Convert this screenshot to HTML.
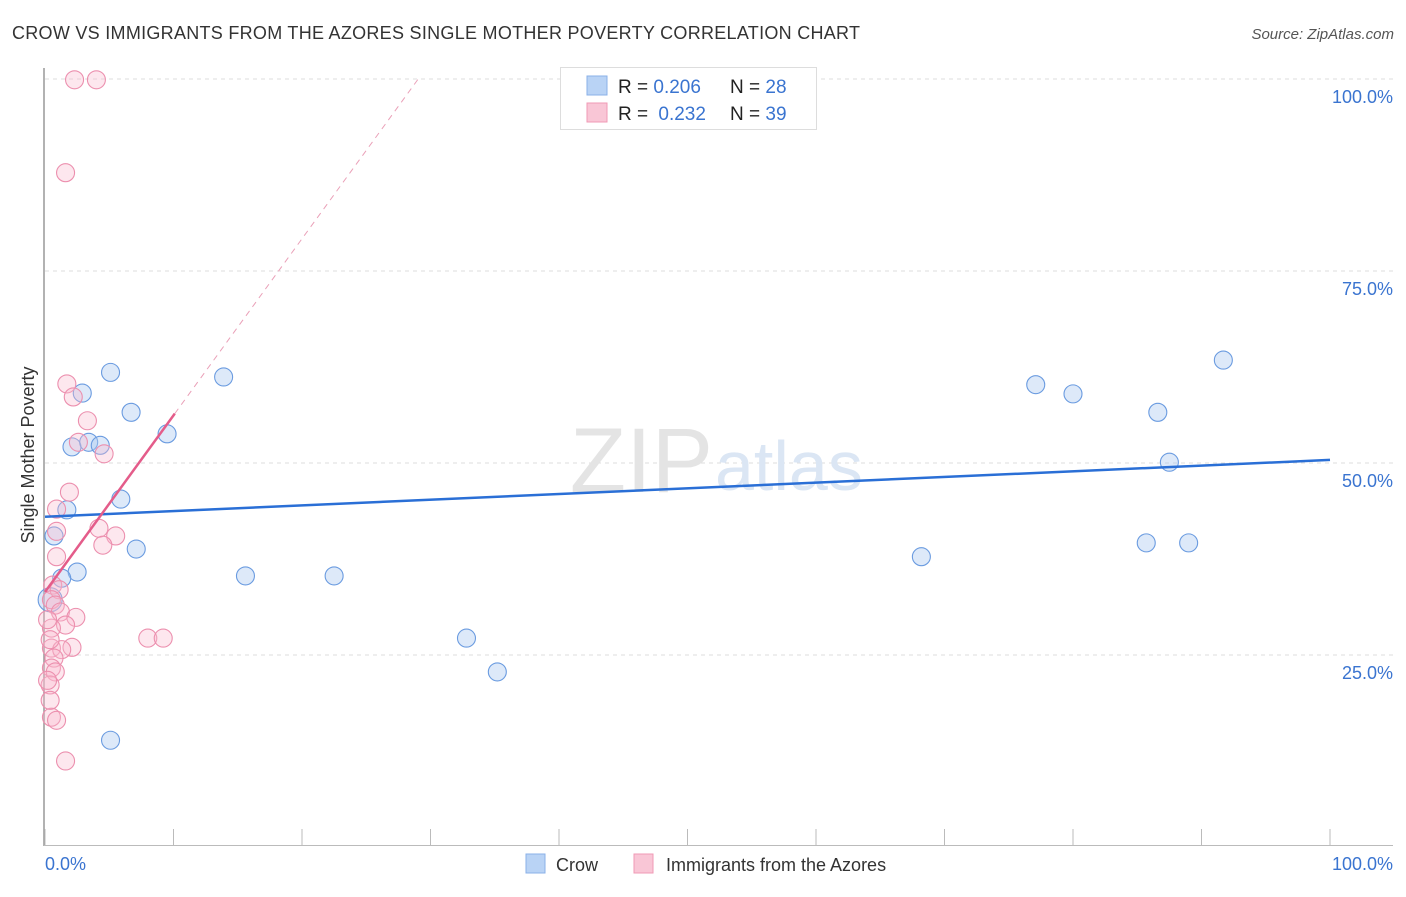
<!DOCTYPE html>
<html><head><meta charset="utf-8"><style>
body{margin:0;background:#fff;font-family:"Liberation Sans",sans-serif;}
svg text{font-family:"Liberation Sans",sans-serif;}
</style></head><body>
<svg id="chart" width="1406" height="892" xmlns="http://www.w3.org/2000/svg">
<text x="12" y="39" font-size="18" fill="#333" textLength="848">CROW VS IMMIGRANTS FROM THE AZORES SINGLE MOTHER POVERTY CORRELATION CHART</text>
<text x="1394" y="39" font-size="15" fill="#555" font-style="italic" text-anchor="end">Source: ZipAtlas.com</text>
<g id="grid"></g>
<text x="713" y="492" font-size="92" fill="#e4e4e4" text-anchor="end" font-family="Liberation Serif">ZIP</text>
<text x="715" y="490" font-size="70" fill="#dbe6f4">atlas</text>
<line x1="44" y1="68" x2="44" y2="846" stroke="#999" stroke-width="1.5"/>
<line x1="44" y1="845.5" x2="1393" y2="845.5" stroke="#bbb"/>
<g id="xticks"></g>
<g id="ylabels"></g>
<text x="34" y="455" font-size="18" fill="#333" text-anchor="middle" transform="rotate(-90 34 455)">Single Mother Poverty</text>
<text x="45" y="870" font-size="18" fill="#3a74d0">0.0%</text>
<text x="1393" y="870" font-size="18" fill="#3a74d0" text-anchor="end">100.0%</text>
<g id="points"></g>
<g id="trends"></g>
<g>
<rect x="560.5" y="67.5" width="256" height="62" fill="#fff" stroke="#ddd"/>
<rect x="587" y="76" width="20" height="19" fill="#b9d3f5" stroke="#8ab0e8"/>
<rect x="587" y="103" width="20" height="19" fill="#f9c6d6" stroke="#f09ab5"/>
<text x="618" y="93" font-size="19" fill="#222">R = <tspan fill="#3a74d0">0.206</tspan><tspan x="730">N = </tspan><tspan fill="#3a74d0">28</tspan></text>
<text x="618" y="120" font-size="19" fill="#222">R = <tspan fill="#3a74d0" dx="5">0.232</tspan><tspan x="730">N = </tspan><tspan fill="#3a74d0">39</tspan></text>
</g>
<g>
<rect x="526" y="854" width="19" height="19" fill="#b9d3f5" stroke="#8ab0e8"/>
<text x="556" y="871" font-size="18" fill="#333">Crow</text>
<rect x="634" y="854" width="19" height="19" fill="#f9c6d6" stroke="#f09ab5"/>
<text x="666" y="871" font-size="18" fill="#333">Immigrants from the Azores</text>
</g>
</svg>
<script>
const crowX=[5.1,2.9,6.7,2.1,3.4,4.3,9.5,13.9,5.9,1.7,0.7,7.1,2.5,1.3,15.6,22.5,32.8,35.2,5.1,77.1,80.0,86.6,87.5,91.7,68.2,85.7,89.0,0.4];
const crowY=[61.8,59.1,56.6,52.1,52.7,52.3,53.8,61.2,45.3,43.9,40.5,38.8,35.8,35.0,35.3,35.3,27.2,22.8,13.9,60.2,59.0,56.6,50.1,63.4,37.8,39.6,39.6,32.2];
const azX=[2.3,4.0,1.6,1.7,2.2,3.3,2.6,4.6,1.9,0.9,0.9,4.2,5.5,4.5,0.9,0.6,1.1,0.5,0.8,1.2,2.4,1.6,0.5,0.5,2.1,1.3,8.0,9.2,0.7,0.5,0.8,0.4,0.5,0.9,1.6,0.2,0.4,0.2,0.4];
const azY=[99.9,99.9,87.8,60.3,58.6,55.5,52.7,51.2,46.2,44.0,41.1,41.5,40.5,39.3,37.8,34.1,33.5,32.2,31.5,30.6,29.9,28.9,28.5,25.9,26.0,25.7,27.2,27.2,24.6,23.3,22.8,21.1,16.9,16.5,11.2,21.7,27.0,29.6,19.1];
const yTicks=[25,50,75,100];
const yTickLabels=["25.0%","50.0%","75.0%","100.0%"];
const xTicks=[0,10,20,30,40,50,60,70,80,90,100];
const crowTrend=[43.0,50.4];
const azTrend=[33.2,2.3];
const NS="http://www.w3.org/2000/svg";
const sx=v=>45+v*12.85, sy=v=>847-v*7.68;
function mk(t,a,p){const e=document.createElementNS(NS,t);for(const k in a)e.setAttribute(k,a[k]);document.getElementById(p).appendChild(e);return e;}
yTicks.forEach((t,i)=>{
 const l=mk('line',{x1:45,x2:1393,y1:sy(t),y2:sy(t),stroke:'#ddd','stroke-dasharray':'4,4'},'grid');
 
 
 const tx=mk('text',{x:1393,y:sy(t)+24,'font-size':18,fill:'#3a74d0','text-anchor':'end'},'ylabels');
 tx.textContent=yTickLabels[i];
 
 
});
xTicks.forEach(t=>{
 const l=mk('line',{x1:sx(t),x2:sx(t),y1:829,y2:845,stroke:'#bbb'},'xticks');
 
 
});
crowX.forEach((x,i)=>{
 const c=mk('circle',{cx:sx(x),cy:sy(crowY[i]),r:i==27?12:9,fill:'rgba(170,200,240,0.4)',stroke:'#6a9be0','stroke-width':1.1},'points');
 
 
});
azX.forEach((x,i)=>{
 const c=mk('circle',{cx:sx(x),cy:sy(azY[i]),r:9,fill:'rgba(248,185,205,0.35)',stroke:'#ec8fae','stroke-width':1.1},'points');
 
 
});
let l=mk('line',{x1:sx(0),y1:sy(crowTrend[0]),x2:sx(100),y2:sy(crowTrend[1]),stroke:'#2a6fd6','stroke-width':2.5},'trends');


const xe=(100-azTrend[0])/azTrend[1];
l=mk('line',{x1:sx(10.1),y1:sy(azTrend[0]+azTrend[1]*10.1),x2:sx(xe),y2:sy(100),stroke:'#eaa0b8','stroke-width':1,'stroke-dasharray':'6,5'},'trends');


l=mk('line',{x1:sx(0),y1:sy(azTrend[0]),x2:sx(10.1),y2:sy(azTrend[0]+azTrend[1]*10.1),stroke:'#e45c8a','stroke-width':2.5},'trends');


</script>
</body></html>
